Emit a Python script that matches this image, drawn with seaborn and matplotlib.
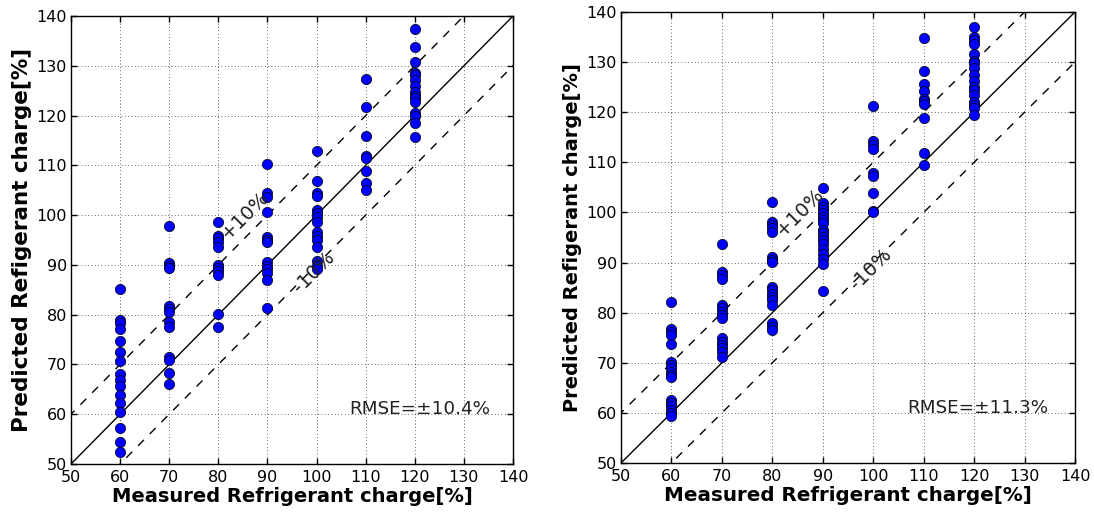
import numpy as np
import pandas as pd
import matplotlib
matplotlib.use("Agg")
import matplotlib.pyplot as plt
import seaborn as sns

# Left panel data
left_measured = [60]*16 + [70]*13 + [80]*11 + [90]*13 + [100]*15 + [110]*8 + [120]*15
left_predicted = [
    85.1, 79.0, 78.3, 77.1, 74.8, 72.6, 70.7, 68.0, 66.9, 65.6, 63.9, 62.2, 60.5, 57.3, 54.5, 52.5,
    97.9, 90.3, 89.8, 89.3, 81.8, 81.1, 80.6, 78.6, 77.6, 71.4, 70.9, 68.3, 66.0,
    98.6, 95.9, 95.4, 94.6, 93.5, 90.0, 89.3, 88.7, 87.9, 80.2, 77.6,
    110.3, 104.4, 103.7, 100.7, 95.7, 95.0, 94.6, 90.5, 89.8, 89.1, 88.3, 87.0, 81.4,
    112.8, 106.9, 104.4, 103.9, 101.0, 100.4, 99.7, 98.7, 96.6, 95.9, 94.9, 93.5, 90.7, 89.8, 89.1,
    127.3, 121.8, 115.8, 111.9, 111.4, 108.9, 106.4, 105.1,
    137.4, 133.8, 130.7, 128.6, 128.2, 127.1, 125.9, 124.8, 123.9, 123.5, 122.8, 120.5, 119.9, 118.5, 115.6,
]

# Right panel data
right_measured = [60]*17 + [70]*15 + [80]*17 + [90]*18 + [100]*9 + [110]*10 + [120]*17
right_predicted = [
    82.1, 76.7, 76.1, 75.6, 73.7, 70.2, 69.6, 68.9, 68.2, 67.6, 67.1, 62.6, 61.9, 61.3, 60.6, 59.9, 59.3,
    93.8, 88.2, 87.5, 86.8, 81.5, 80.9, 80.2, 79.5, 78.9, 74.9, 74.2, 73.6, 72.9, 72.2, 71.2,
    102.1, 98.1, 97.5, 96.8, 96.1, 91.2, 90.6, 90.2, 85.2, 84.5, 83.8, 83.2, 82.5, 81.5, 77.9, 77.2, 76.6,
    104.9, 101.8, 101.1, 100.5, 99.8, 99.1, 98.5, 97.8, 96.5, 95.8, 95.1, 94.5, 93.8, 92.8, 91.8, 90.8, 89.8, 84.3,
    121.2, 114.2, 113.4, 112.6, 107.9, 107.3, 103.8, 100.3, 100.0,
    134.8, 128.2, 125.6, 124.2, 122.7, 122.2, 121.7, 118.8, 111.9, 109.4,
    137.0, 135.1, 134.4, 133.7, 131.7, 130.3, 129.8, 128.9, 127.5, 126.3, 125.0, 124.4, 123.4, 122.0, 121.4, 120.9, 119.4,
]

rmse_labels = ["RMSE=\u00b110.4%", "RMSE=\u00b111.3%"]
band_labels = ["+10%", "-10%"]
band_offset = 10
ticks = [50, 60, 70, 80, 90, 100, 110, 120, 130, 140]
xlabel = "Measured Refrigerant charge[%]"
ylabel = "Predicted Refigerant charge[%]"

sns.set_theme(style="white")
plt.rcParams.update({
    "font.family": ["DejaVu Sans"],
    "text.color": "black", "axes.labelcolor": "black",
    "xtick.direction": "in", "ytick.direction": "in",
    "xtick.top": True, "ytick.right": True,
    "xtick.bottom": True, "ytick.left": True,
    "xtick.major.size": 4, "ytick.major.size": 4,
    "xtick.major.pad": 4, "ytick.major.pad": 3,
    "xtick.color": "black", "ytick.color": "black",
    "axes.edgecolor": "black", "axes.linewidth": 1.0,
})

fig = plt.figure(figsize=(10.94, 5.16), dpi=100)
ax1 = fig.add_axes([71/1094, 52/516, 442/1094, 448/516])
ax2 = fig.add_axes([621/1094, 53/516, 454/1094, 451/516])

datasets = [(ax1, left_measured, left_predicted, rmse_labels[0], 15.5, 14),
            (ax2, right_measured, right_predicted, rmse_labels[1], 14, 14.3)]

line = np.array([40, 150])
for ax, xm, yp, lab, yfs, xfs in datasets:
    df = pd.DataFrame({"measured": xm, "predicted": yp})
    ax.plot(line, line, color="black", lw=1.0, zorder=2)
    ax.plot(line, line + band_offset, color="black", lw=1.0, ls=(0, (6, 6)), zorder=2)
    ax.plot(line, line - band_offset, color="black", lw=1.0, ls=(0, (6, 6)), zorder=2)
    sns.scatterplot(data=df, x="measured", y="predicted", ax=ax, color="blue",
                    edgecolor="black", linewidth=0.5, s=55, zorder=3, legend=False)
    ax.set_xlim(50, 140)
    ax.set_ylim(50, 140)
    ax.set_xticks(ticks)
    ax.set_yticks(ticks)
    ax.tick_params(labelsize=11.5, width=1)
    ax.grid(True, color="black", ls=(0, (1, 3)), lw=0.6, alpha=0.8)
    ax.set_axisbelow(True)
    for s in ax.spines.values():
        s.set_visible(True)
        s.set_color("black")
    ax.set_xlabel(xlabel, fontsize=xfs, fontweight="bold", labelpad=2)
    ax.set_ylabel(ylabel, fontsize=yfs, fontweight="bold", labelpad=3)
    ax.text(85.5, 100, band_labels[0], rotation=45, fontsize=14, ha="center", va="center", color="#222222")
    ax.text(99.5, 88.6, band_labels[1], rotation=45, fontsize=14, ha="center", va="center", color="#222222")
    ax.text(106.7, 61, lab, fontsize=13.2, ha="left", va="center", color="#222222")

fig.savefig("out.png", dpi=100)
